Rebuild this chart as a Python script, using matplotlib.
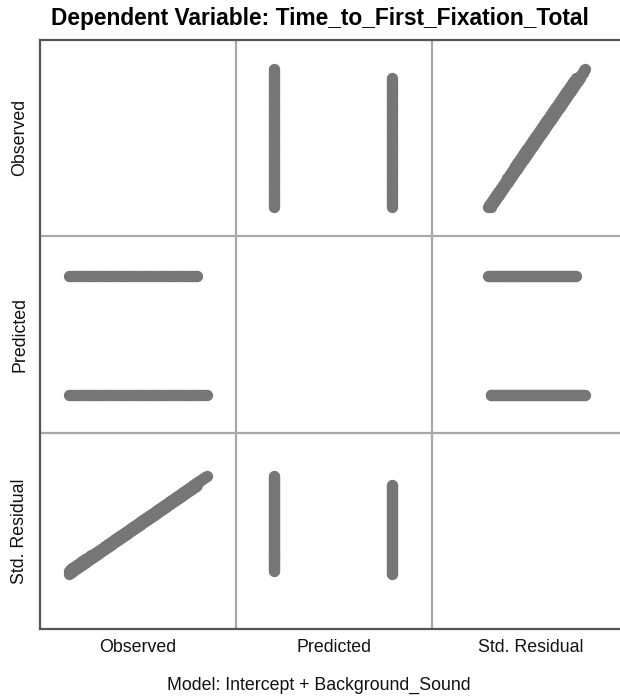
import numpy as np
import matplotlib
matplotlib.use('Agg')
import matplotlib.pyplot as plt

plt.rcParams['font.family'] = ['Liberation Sans', 'DejaVu Sans']

# observed time to first fixation (ms), one list per Background_Sound level
obs_a = [444, 459, 481, 503, 526, 548, 571, 590, 614, 633, 655, 678, 701, 722,
         742, 766, 788, 809, 830, 852, 874, 897, 919, 940, 963, 985, 1006, 1027,
         1049, 1072, 1094, 1115, 1138, 1160, 1183, 1204, 1226, 1249, 1270, 1293,
         1314, 1336, 1359, 1381, 1402, 1425, 1447, 1468, 1491, 1512, 1535, 1557,
         1580, 1601, 1623, 1646, 1667, 1690, 1712, 1733, 1756, 1778, 1801, 1822,
         1844, 1866, 1889, 1910, 1932, 1955, 1976, 1999, 2021, 2042, 2065, 2087,
         2108, 2131, 2153, 2176, 2197, 2219, 2242, 2264, 2285, 2308, 2330, 2351,
         2374, 2396, 2419, 2440, 2462, 2485, 2507, 2528, 2550]
obs_b = [444, 466, 489, 511, 532, 555, 577, 600, 621, 643, 666, 688, 709, 732,
         754, 777, 798, 820, 843, 865, 886, 909, 931, 952, 975, 997, 1020, 1041,
         1063, 1086, 1108, 1129, 1152, 1174, 1197, 1218, 1240, 1263, 1285, 1306,
         1329, 1351, 1372, 1395, 1417, 1440, 1461, 1483, 1506, 1528, 1549, 1572,
         1594, 1617, 1638, 1660, 1683, 1705, 1726, 1749, 1771, 1792, 1815, 1837,
         1860, 1881, 1903, 1926, 1948, 1969, 1992, 2014, 2037, 2058, 2080, 2103,
         2125, 2146, 2169, 2191, 2212, 2235, 2257, 2280, 2301, 2323, 2346, 2368,
         2389, 2412]

# model predictions per level and root mean square error
pred_a = 1450
pred_b = 1516
resid_sd = 650

var_names = ['Observed', 'Predicted', 'Std. Residual']
title = 'Dependent Variable: Time_to_First_Fixation_Total'
model_text = 'Model: Intercept + Background_Sound'

observed = np.array(obs_a + obs_b, dtype=float)
predicted = np.array([pred_a] * len(obs_a) + [pred_b] * len(obs_b), dtype=float)
std_resid = (observed - predicted) / resid_sd

data = [observed, predicted, std_resid]
limits = [(0, 3000), (1428.9, 1538.4), (-3.53, 3.18)]

W, H = 620, 698
fig = plt.figure(figsize=(W / 100, H / 100), dpi=100)

left, top, cell = 39.5, 39.5, 196.5
point_color = '#767676'

for i in range(3):
  for j in range(3):
    ax = fig.add_axes([(left + j * cell) / W, 1 - (top + (i + 1) * cell) / H,
                       cell / W, cell / H])
    ax.set_xlim(*limits[j])
    ax.set_ylim(*limits[i])
    ax.set_xticks([])
    ax.set_yticks([])
    for s in ax.spines.values():
      s.set_visible(False)
    ax.patch.set_alpha(0)
    if i != j:
      ax.scatter(data[j], data[i], s=66, color=point_color, linewidths=0)

# frame and cell dividers
frame = fig.add_axes([left / W, 1 - (top + 3 * cell) / H, 3 * cell / W, 3 * cell / H])
frame.set_xlim(0, 3)
frame.set_ylim(0, 3)
frame.set_xticks([])
frame.set_yticks([])
frame.patch.set_alpha(0)
for s in frame.spines.values():
  s.set_color('#555555')
  s.set_linewidth(1.6)
for k in (1, 2):
  frame.axvline(k, color='#a8a8a8', lw=1.6)
  frame.axhline(k, color='#a8a8a8', lw=1.6)

for k, name in enumerate(var_names):
  cx = (left + (k + 0.5) * cell) / W
  cy = 1 - (top + (k + 0.5) * cell) / H
  fig.text(cx, 1 - 647 / H, name, ha='center', va='center', fontsize=12.8,
           color='#111111')
  fig.text(20 / W, cy, name, ha='center', va='center', rotation=90,
           fontsize=12.8, color='#111111')

fig.text(320 / W, 1 - 19 / H, title, ha='center', va='center',
         fontsize=16.4, fontweight='bold')
fig.text(319 / W, 1 - 685 / H, model_text, ha='center', va='center',
         fontsize=12.8, color='#111111')

fig.savefig('out.png', dpi=100)
